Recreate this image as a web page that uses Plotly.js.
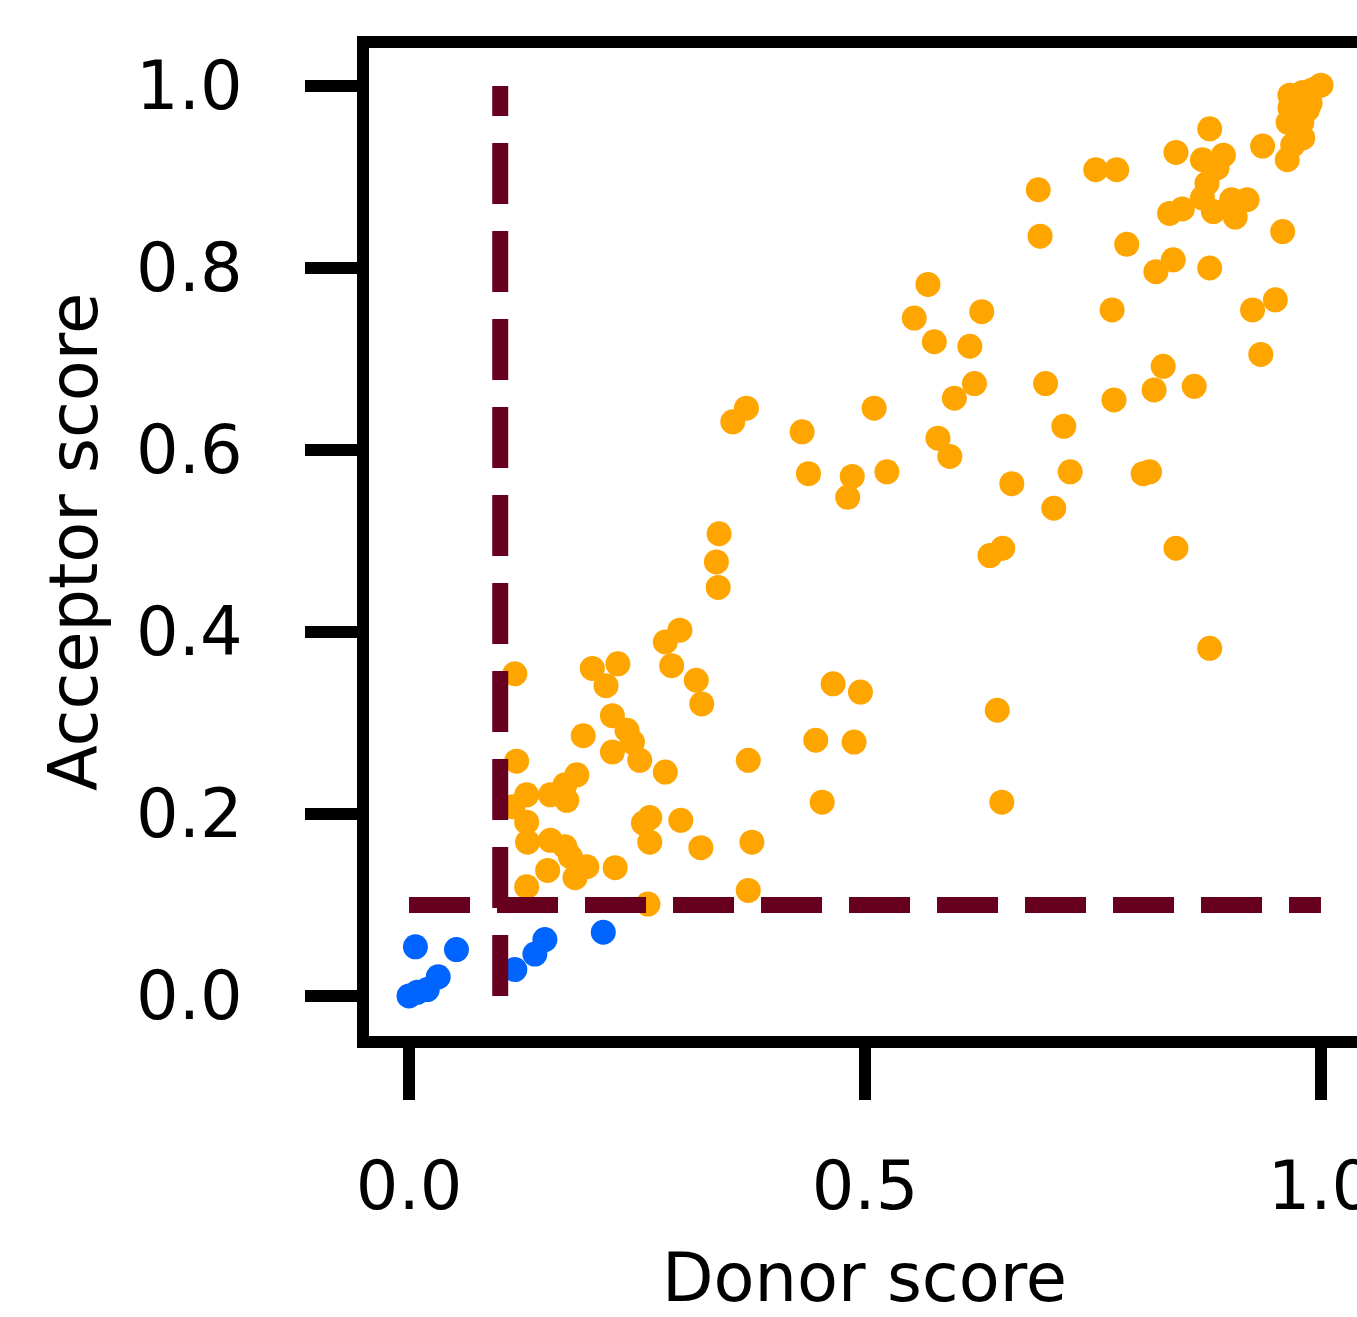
<!DOCTYPE html>
<html>
<head>
<meta charset="utf-8">
<script src="https://cdn.plot.ly/plotly-3.0.1.min.js"></script>
<style>
html, body { margin: 0; padding: 0; overflow: hidden; background: #fff; }
#wrap { width: 1357px; height: 1317px; overflow: hidden; }
#chart { width: 1370px; height: 1317px; }
</style>
</head>
<body>
<div id="wrap"><div id="chart"></div></div>
<script>
// Orange: pairs passing both thresholds
const orangeDonor = [1.000,0.991,0.980,0.966,0.974,0.988,0.966,0.985,0.964,0.979,0.980,0.969,0.963,0.936,
  0.878,0.841,0.870,0.893,0.886,0.875,0.870,0.882,0.902,0.919,0.906,0.834,0.848,0.958,
  0.753,0.776,0.690,0.692,0.787,0.838,0.819,0.878,0.569,0.554,0.628,0.576,0.615,0.771,
  0.950,0.925,0.934,0.827,0.817,0.861,0.620,0.598,0.698,0.773,0.718,0.580,0.593,0.524,
  0.661,0.725,0.707,0.805,0.812,0.651,0.637,0.841,0.878,0.370,0.355,0.431,0.510,0.438,
  0.486,0.481,0.340,0.337,0.339,0.297,0.281,0.288,0.315,0.321,0.465,0.495,0.645,0.446,
  0.488,0.372,0.281,0.453,0.650,0.298,0.116,0.201,0.229,0.216,0.223,0.239,0.245,0.191,
  0.223,0.253,0.184,0.171,0.118,0.129,0.155,0.173,0.114,0.129,0.130,0.155,0.171,0.177,
  0.152,0.182,0.195,0.226,0.129,0.262,0.257,0.264,0.264,0.320,0.376,0.372];
const orangeAcceptor = [1.001,0.996,0.993,0.990,0.985,0.981,0.976,0.974,0.960,0.960,0.943,0.935,0.919,0.934,
  0.953,0.927,0.919,0.924,0.910,0.893,0.877,0.862,0.875,0.875,0.856,0.860,0.865,0.840,
  0.908,0.908,0.886,0.835,0.826,0.809,0.796,0.800,0.782,0.745,0.752,0.719,0.714,0.754,
  0.765,0.754,0.705,0.692,0.666,0.670,0.673,0.657,0.673,0.655,0.626,0.613,0.593,0.576,
  0.563,0.576,0.536,0.574,0.576,0.492,0.484,0.492,0.382,0.646,0.631,0.620,0.646,0.574,
  0.571,0.548,0.508,0.477,0.449,0.402,0.389,0.363,0.347,0.321,0.343,0.334,0.314,0.281,
  0.279,0.259,0.246,0.213,0.213,0.193,0.354,0.360,0.365,0.341,0.308,0.292,0.279,0.286,
  0.268,0.259,0.243,0.232,0.258,0.221,0.221,0.215,0.208,0.191,0.169,0.171,0.164,0.153,
  0.138,0.130,0.142,0.141,0.120,0.101,0.190,0.196,0.169,0.163,0.169,0.116];
// Blue: pairs below thresholds
const blueDonor = [0.007,0.052,0.032,0.020,0.009,0.000,0.116,0.138,0.149,0.213];
const blueAcceptor = [0.054,0.051,0.021,0.007,0.004,0.000,0.029,0.046,0.062,0.070];
// Threshold lines
const threshold = 0.1;
const lineStart = 0.0;
const lineEnd = 1.0;
const tickVals = {x: [0.0, 0.5, 1.0], y: [0.0, 0.2, 0.4, 0.6, 0.8, 1.0]};
const tickText = {x: ['0.0', '0.5', '1.0'], y: ['0.0', '0.2', '0.4', '0.6', '0.8', '1.0']};

const FONT = 'DejaVu Sans, sans-serif';
const markerSize = 25;
const dashColor = '#67001f';
const dashStyle = {color: dashColor, width: 16, dash: '61px,27px'};

const traces = [
  {x: orangeDonor, y: orangeAcceptor, type: 'scatter', mode: 'markers',
   marker: {color: '#ffa500', size: markerSize, line: {width: 0}}, hoverinfo: 'skip'},
  {x: blueDonor, y: blueAcceptor, type: 'scatter', mode: 'markers',
   marker: {color: '#0064ff', size: markerSize, line: {width: 0}}, hoverinfo: 'skip'},
  {x: [threshold, threshold], y: [lineStart, lineEnd], type: 'scatter', mode: 'lines',
   line: dashStyle, hoverinfo: 'skip'},
  {x: [lineStart, lineEnd], y: [threshold, threshold], type: 'scatter', mode: 'lines',
   line: dashStyle, hoverinfo: 'skip'}
];

const axisCommon = {
  showgrid: false, zeroline: false, showline: true, mirror: true,
  linecolor: '#000', linewidth: 12,
  ticks: 'outside', ticklen: 52, tickwidth: 12, tickcolor: '#000',
  tickfont: {family: FONT, size: 67, color: '#000'},
  tickmode: 'array', ticklabeloverflow: 'allow'
};

const layout = {
  width: 1370, height: 1317,
  margin: {l: 369, r: 10, t: 48, b: 281},
  paper_bgcolor: '#fff', plot_bgcolor: '#fff',
  showlegend: false,
  font: {family: FONT, color: '#000'},
  xaxis: Object.assign({}, axisCommon, {
    range: [-0.0439, 1.0428], tickvals: tickVals.x, ticktext: tickText.x,
    ticklabelstandoff: 29,
    title: {text: 'Donor score', font: {family: FONT, size: 67, color: '#000'}, standoff: 55}
  }),
  yaxis: Object.assign({}, axisCommon, {
    range: [-0.044, 1.0418], tickvals: tickVals.y, ticktext: tickText.y,
    ticklabelstandoff: 49,
    title: {text: 'Acceptor score', font: {family: FONT, size: 67, color: '#000'}, standoff: 22}
  })
};

Plotly.newPlot('chart', traces, layout, {staticPlot: true, displayModeBar: false});
</script>
</body>
</html>
